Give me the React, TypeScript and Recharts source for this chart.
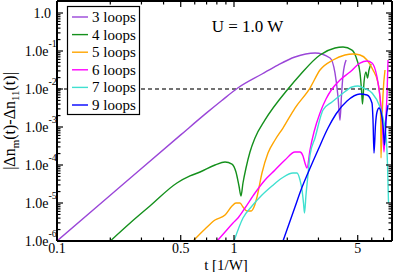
import { ComposedChart, Line, XAxis, YAxis, ReferenceLine } from 'recharts'

// |Δn_m(t) - Δn_11(t)| for each loop order
const T_3 = [0.1, 0.2, 0.3, 0.5, 0.7, 0.85, 1.05, 1.44, 1.77, 2.21, 2.87, 3.49, 3.72, 3.87, 3.97, 4.05, 4.13, 4.3]
const N_3 = [1e-6, 1.6e-5, 8.1e-5, 6.2e-4, 2.35e-3, 4.9e-3, 1.06e-2, 2.48e-2, 4.28e-2, 6.95e-2, 8.86e-2, 6.54e-2, 2.64e-2, 6.2e-3, 1.5e-3, 7e-3, 2.34e-2, 5.8e-2]

const T_4 = [0.2, 0.259, 0.335, 0.476, 0.564, 0.643, 0.781, 0.89, 0.974, 1.026, 1.067, 1.095, 1.124, 1.169, 1.231, 1.314, 1.497, 2.019, 2.36, 3.061, 3.721, 4.13, 4.642, 4.954, 5.152, 5.253, 5.321, 5.427, 5.567, 5.677, 5.79, 5.943]
const N_4 = [1e-6, 2.98e-6, 8.34e-6, 3.36e-5, 5.14e-5, 6.54e-5, 1e-4, 1.2e-4, 1.06e-4, 6.54e-5, 2.8e-5, 1.53e-5, 3.36e-5, 8.34e-5, 2.2e-4, 5.14e-4, 1.53e-3, 1e-2, 2.34e-2, 7.85e-2, 0.12, 0.127, 0.106, 5.8e-2, 2.64e-2, 9.4e-3, 4.03e-3, 1.53e-2, 2.8e-2, 1.95e-2, 3.16e-2, 4.55e-2]

const T_5 = [0.587, 0.686, 0.781, 0.89, 0.974, 1.026, 1.081, 1.124, 1.184, 1.247, 1.297, 1.349, 1.439, 1.556, 1.705, 1.891, 2.211, 2.687, 3.061, 3.625, 4.239, 4.702, 5.152, 5.641, 6.1, 6.51, 6.682, 6.742, 6.769, 6.858, 6.947, 7.131]
const N_5 = [1e-6, 2.07e-6, 3.57e-6, 4.83e-6, 8.34e-6, 1e-5, 1e-5, 7.85e-6, 6.15e-6, 6.15e-6, 7.85e-6, 1.44e-5, 6.15e-5, 2.07e-4, 4.55e-4, 9.4e-4, 3.16e-3, 1.06e-2, 3.16e-2, 5.8e-2, 7.85e-2, 8.34e-2, 7.85e-2, 5.8e-2, 3.16e-2, 1.44e-2, 6.16e-3, 1.53e-3, 1.53e-4, 1.53e-3, 6.95e-3, 3.16e-2]

const T_6 = [0.802, 0.89, 0.987, 1.053, 1.154, 1.314, 1.497, 1.705, 1.941, 2.211, 2.36, 2.454, 2.518, 2.585, 2.687, 2.831, 3.061, 3.31, 3.578, 3.972, 4.523, 5.152, 5.641, 6.02, 6.425, 6.682, 6.858, 7.039, 7.226, 7.32, 7.417]
const N_6 = [1e-6, 1.73e-6, 2.98e-6, 4.03e-6, 7.38e-6, 1.83e-5, 4.03e-5, 7.38e-5, 1.35e-4, 2.2e-4, 2.2e-4, 1.73e-4, 1.13e-4, 8.34e-5, 2.48e-4, 7.38e-4, 2.34e-3, 5.46e-3, 1e-2, 1.73e-2, 2.8e-2, 4.83e-2, 5.46e-2, 4.83e-2, 2.07e-2, 6.16e-3, 1.83e-3, 2.2e-4, 2.07e-3, 6.95e-3, 5.8e-2]

const T_7 = [1.0, 1.124, 1.264, 1.439, 1.639, 1.867, 2.154, 2.269, 2.36, 2.423, 2.47, 2.502, 2.551, 2.618, 2.687, 2.869, 3.183, 3.578, 4.076, 4.642, 5.02, 5.5, 6.02, 6.682, 6.947, 7.226, 7.368, 7.465]
const N_7 = [1e-6, 4.03e-6, 8.34e-6, 1.62e-5, 2.8e-5, 4.55e-5, 6.15e-5, 6.15e-5, 4.03e-5, 2.2e-5, 1e-5, 5.46e-6, 1.62e-5, 5.46e-5, 1.83e-4, 5.14e-4, 2.8e-3, 4.55e-3, 7.4e-3, 1.13e-2, 1.2e-2, 1.02e-2, 7.85e-3, 3.36e-3, 1.73e-3, 6.15e-4, 1e-4, 1e-5]

const T_9 = [1.891, 2.045, 2.211, 2.39, 2.618, 2.983, 3.397, 3.77, 4.35, 5.152, 5.641, 6.02, 6.1, 6.18, 6.301, 6.425, 6.595, 6.769, 6.947, 7.085, 7.226, 7.417]
const N_9 = [1e-6, 2.8e-6, 7.85e-6, 2.2e-5, 6.15e-5, 2.48e-4, 9.4e-4, 2.2e-3, 4.83e-3, 7.38e-3, 6.95e-3, 4.28e-3, 1.53e-3, 2.07e-4, 1.13e-3, 2.48e-3, 3.16e-3, 2.48e-3, 1.13e-3, 3.36e-4, 1.53e-3, 3.79e-3]

const SERIES = [
  { name: '3 loops', color: '#9a46d8', t: T_3, n: N_3 },
  { name: '4 loops', color: '#14901c', t: T_4, n: N_4 },
  { name: '5 loops', color: '#ffa500', t: T_5, n: N_5 },
  { name: '6 loops', color: '#ff00ff', t: T_6, n: N_6 },
  { name: '7 loops', color: '#40e0d0', t: T_7, n: N_7 },
  { name: '9 loops', color: '#0000ff', t: T_9, n: N_9 },
]

// axis ticks
const X_TICKS = [0.1, 0.2, 0.3, 0.4, 0.5, 0.6, 0.7, 0.8, 0.9, 1, 2, 3, 4, 5, 6, 7]
const X_LABELED = [0.1, 0.5, 1, 5]
const X_LABELS = ['0.1', '0.5', '1', '5']
const Y_DECADES = [1e-6, 1e-5, 1e-4, 1e-3, 1e-2, 1e-1, 1]
const Y_EXPONENTS = [-6, -5, -4, -3, -2, -1, 0]

const Y_TICKS: number[] = []
Y_DECADES.forEach((d) => {
  if (d >= 1) {
    Y_TICKS.push(d)
    return
  }
  for (let k = 1; k <= 9; k++) Y_TICKS.push(d * k)
})

const X_DOMAIN = [0.1, 7.81]
const Y_DOMAIN = [1e-6, 2.07]
const FONT = '"Liberation Serif", "Times New Roman", serif'
const TICK_W = 1.2

function BottomTick({ x, y, payload }: any) {
  const i = X_LABELED.indexOf(payload.value)
  return (
    <g>
      <line x1={x} x2={x} y1={y} y2={y - (i >= 0 ? 6 : 3.5)} stroke='#000' strokeWidth={TICK_W} />
      {i >= 0 && (
        <text x={x} y={y + 12} textAnchor='middle' fontSize={14} fontFamily={FONT} fill='#000'>
          {X_LABELS[i]}
        </text>
      )}
    </g>
  )
}

function TopTick({ x, y, payload }: any) {
  const major = X_LABELED.includes(payload.value)
  return <line x1={x} x2={x} y1={y} y2={y + (major ? 6 : 3.5)} stroke='#000' strokeWidth={TICK_W} />
}

function LeftTick({ x, y, payload }: any) {
  const i = Y_DECADES.indexOf(payload.value)
  if (i < 0) {
    return <line x1={x} x2={x + 3.5} y1={y} y2={y} stroke='#000' strokeWidth={TICK_W} />
  }
  const exp = Y_EXPONENTS[i]
  return (
    <g>
      <line x1={x} x2={x + 6} y1={y} y2={y} stroke='#000' strokeWidth={TICK_W} />
      {exp === 0 ? (
        <text x={51} y={y + 5} textAnchor='end' fontSize={14} fontFamily={FONT} fill='#000'>
          1.0
        </text>
      ) : (
        <g>
          <text x={48.5} y={y + 5} textAnchor='end' fontSize={14} fontFamily={FONT} fill='#000'>
            1.0e
          </text>
          <text x={48.5} y={y - 4} textAnchor='start' fontSize={10} fontFamily={FONT} fill='#000'>
            {exp}
          </text>
        </g>
      )}
    </g>
  )
}

function RightTick({ x, y, payload }: any) {
  const major = Y_DECADES.includes(payload.value)
  return <line x1={x} x2={x - (major ? 6 : 3.5)} y1={y} y2={y} stroke='#000' strokeWidth={TICK_W} />
}

export default function App() {
  return (
    <div style={{ position: 'absolute', left: 0, top: 0, width: 395, height: 272, background: '#fff' }}>
      <ComposedChart width={395} height={272} margin={{ top: 0, right: 2, bottom: 30, left: 56 }}>
        <XAxis
          type='number'
          dataKey='t'
          scale='log'
          domain={X_DOMAIN}
          allowDataOverflow
          ticks={X_TICKS}
          interval={0}
          height={1}
          tickSize={0}
          tickMargin={0}
          tickLine={false}
          tick={BottomTick}
          axisLine={{ stroke: '#000', strokeWidth: 2 }}
        />
        <XAxis
          xAxisId='top'
          orientation='top'
          type='number'
          dataKey='t'
          scale='log'
          domain={X_DOMAIN}
          allowDataOverflow
          ticks={X_TICKS}
          interval={0}
          height={1}
          tickSize={0}
          tickMargin={0}
          tickLine={false}
          tick={TopTick}
          axisLine={{ stroke: '#000', strokeWidth: 2 }}
        />
        <YAxis
          type='number'
          scale='log'
          domain={Y_DOMAIN}
          allowDataOverflow
          ticks={Y_TICKS}
          interval={0}
          width={1}
          tickSize={0}
          tickMargin={0}
          tickLine={false}
          tick={LeftTick}
          axisLine={{ stroke: '#000', strokeWidth: 2 }}
        />
        <YAxis
          yAxisId='right'
          orientation='right'
          type='number'
          scale='log'
          domain={Y_DOMAIN}
          allowDataOverflow
          ticks={Y_TICKS}
          interval={0}
          width={1}
          tickSize={0}
          tickMargin={0}
          tickLine={false}
          tick={RightTick}
          axisLine={{ stroke: '#000', strokeWidth: 2 }}
        />
        <ReferenceLine y={0.01} stroke='#444' strokeWidth={1.3} strokeDasharray='4 3' />
        {SERIES.map((s) => (
          <Line
            key={s.name}
            data={s.t.map((t, i) => ({ t, v: s.n[i] }))}
            dataKey='v'
            type='monotone'
            stroke={s.color}
            strokeWidth={1.4}
            dot={false}
            activeDot={false}
            isAnimationActive={false}
          />
        ))}
      </ComposedChart>
      <svg
        width={395}
        height={272}
        style={{ position: 'absolute', left: 0, top: 0, pointerEvents: 'none' }}
        fontFamily={FONT}
      >
        <text x={247.5} y={32} textAnchor='middle' fontSize={17} fill='#000'>
          U = 1.0 W
        </text>
        <text x={226} y={270} textAnchor='middle' fontSize={15} fill='#000'>
          t [1/W]
        </text>
        <text x={15} y={121} transform='rotate(-90 15 121)' textAnchor='middle' fontSize={16} fill='#000'>
          |Δn
          <tspan dy={4} fontSize={11}>m</tspan>
          <tspan dy={-4}>(t)-Δn</tspan>
          <tspan dy={4} fontSize={11}>11</tspan>
          <tspan dy={-4}>(t)|</tspan>
        </text>
        <rect x={67.5} y={6.5} width={72} height={108} fill='#fff' stroke='#000' strokeWidth={1.2} />
        {SERIES.map((s, i) => {
          const cy = 17 + i * 17.6
          return (
            <g key={s.name}>
              <line x1={72} x2={88} y1={cy} y2={cy} stroke={s.color} strokeWidth={1.4} />
              <text x={92} y={cy + 5} fontSize={15} fill='#000'>
                {s.name}
              </text>
            </g>
          )
        })}
      </svg>
    </div>
  )
}
